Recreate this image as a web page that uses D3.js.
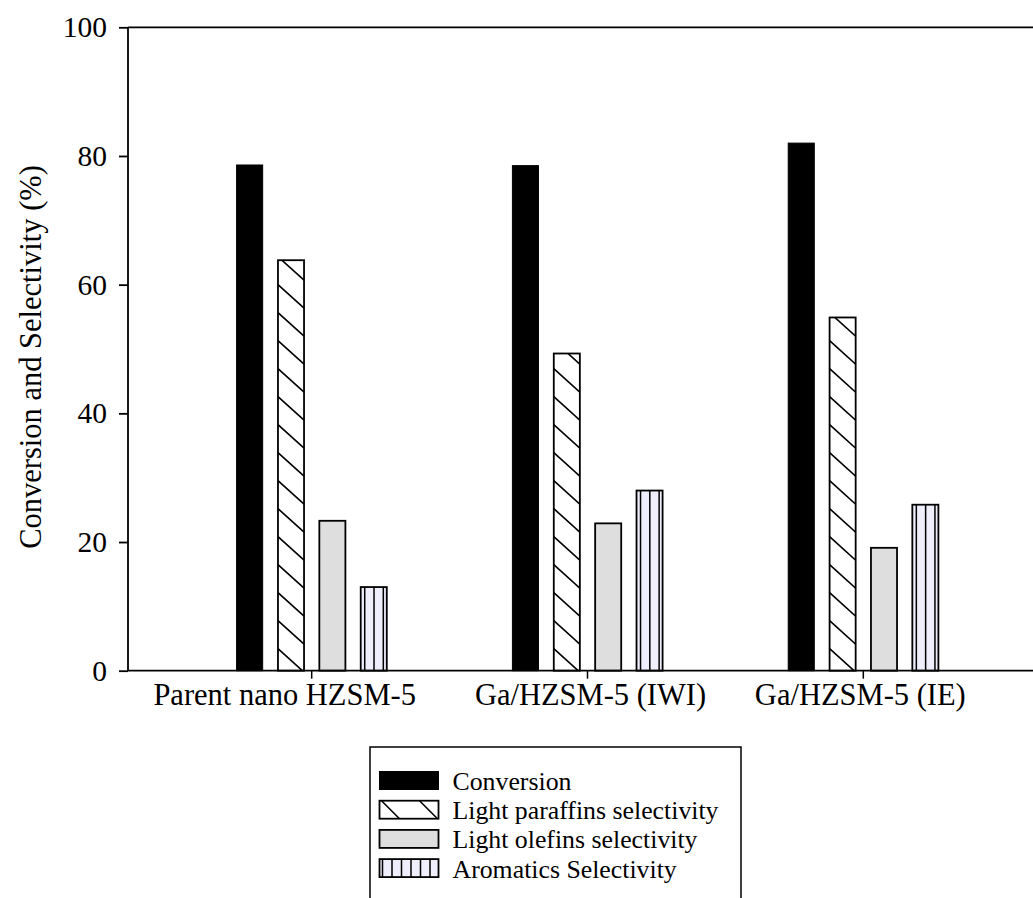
<!DOCTYPE html>
<html>
<head>
<meta charset="utf-8">
<script src="https://cdn.jsdelivr.net/npm/d3@7"></script>
<style>
  html, body { margin: 0; padding: 0; background: #fff; }
  svg { display: block; font-family: "Liberation Serif", "Times New Roman", serif; }
</style>
</head>
<body>
<svg id="chart" width="1033" height="898"></svg>
<script>
// Catalyst samples on the x axis
const categories = ["Parent nano HZSM-5", "Ga/HZSM-5 (IWI)", "Ga/HZSM-5 (IE)"];

// Series names (legend order)
const seriesNames = ["Conversion", "Light paraffins selectivity", "Light olefins selectivity", "Aromatics Selectivity"];

// Values (%) per catalyst, one array per series
const conversion = [78.6, 78.5, 82.0];
const paraffins  = [63.8, 49.3, 54.9];
const olefins    = [23.3, 22.9, 19.1];
const aromatics  = [13.0, 28.0, 25.8];

const yTicks = [0, 20, 40, 60, 80, 100];

const seriesValues = [conversion, paraffins, olefins, aromatics];

const svg = d3.select("#chart");

// plot frame
const plotLeft = 128, plotRight = 1047, plotTop = 27.3, plotBottom = 670.7;

const x0 = d3.scaleBand()
  .domain(categories)
  .range([plotLeft, plotRight])
  .paddingInner(0)
  .paddingOuter(0.166);

const groupSpan = x0.bandwidth() * 0.6;
const x1 = d3.scaleBand()
  .domain(seriesNames)
  .range([-groupSpan / 2, groupSpan / 2])
  .paddingInner(0.37)
  .paddingOuter(0.185);

const y = d3.scaleLinear().domain([0, 100]).range([plotBottom, plotTop]);

// flat list of bars
const bars = [];
categories.forEach((c, i) => {
  seriesNames.forEach((s, j) => {
    bars.push({ cat: c, series: s, idx: j, value: seriesValues[j][i] });
  });
});

const fills = ["#000000", "#ffffff", "#dedede", "#eeeefc"];

const defs = svg.append("defs");

const barG = svg.append("g");

bars.forEach((b, k) => {
  const cx = x0(b.cat) + x0.bandwidth() / 2;
  const bx = cx + x1(b.series);
  const bw = x1.bandwidth();
  const by = y(b.value);
  const bh = y(0) - by;

  const clipId = "clip-bar-" + k;
  defs.append("clipPath").attr("id", clipId)
    .append("rect").attr("x", bx).attr("y", by).attr("width", bw).attr("height", bh);

  barG.append("rect")
    .attr("x", bx).attr("y", by).attr("width", bw).attr("height", bh)
    .attr("fill", fills[b.idx]);

  const hatch = barG.append("g").attr("clip-path", `url(#${clipId})`);
  if (b.idx === 1) {
    // descending diagonal hatch, anchored at the bar base
    const step = 28;
    for (let yy = y(0) - 22; yy > by - bw - step; yy -= step) {
      hatch.append("line")
        .attr("x1", bx).attr("y1", yy)
        .attr("x2", bx + bw).attr("y2", yy + bw * 0.9)
        .attr("stroke", "#000").attr("stroke-width", 1.6);
    }
  } else if (b.idx === 3) {
    // vertical stripes
    for (let xx = bx + 4; xx < bx + bw - 2; xx += 9.3) {
      hatch.append("line")
        .attr("x1", xx).attr("y1", by)
        .attr("x2", xx).attr("y2", y(0))
        .attr("stroke", "#000").attr("stroke-width", 1.5);
    }
  }

  barG.append("rect")
    .attr("x", bx).attr("y", by).attr("width", bw).attr("height", bh)
    .attr("fill", "none")
    .attr("stroke", "#000").attr("stroke-width", b.idx === 0 ? 1 : 1.8);
});

// axes
const yAxis = d3.axisLeft(y).tickValues(yTicks).tickSize(9).tickPadding(12).tickFormat(d3.format("d"));
const yg = svg.append("g").attr("transform", `translate(${plotLeft},0)`).call(yAxis);
yg.select(".domain").remove();
yg.selectAll(".tick line").attr("stroke", "#000").attr("stroke-width", 1.8);
yg.selectAll(".tick text").attr("font-size", 29.5).attr("fill", "#000")
  .attr("font-family", "Liberation Serif, Times New Roman, serif");

const xAxis = d3.axisBottom(x0).tickSize(8).tickPadding(5);
const xg = svg.append("g").attr("transform", `translate(0,${plotBottom})`).call(xAxis);
xg.select(".domain").remove();
xg.selectAll(".tick line").attr("stroke", "#000").attr("stroke-width", 1.5);
// the first category label sits slightly left of its tick
const labelShift = [-27, 3, -3];
xg.selectAll(".tick text").attr("font-size", 30.5).attr("fill", "#000")
  .attr("dx", (d, i) => labelShift[i])
  .attr("font-family", "Liberation Serif, Times New Roman, serif");

// frame lines: left, top, bottom
svg.append("line").attr("x1", plotLeft).attr("y1", plotTop).attr("x2", plotLeft).attr("y2", plotBottom)
  .attr("stroke", "#000").attr("stroke-width", 1.8);
svg.append("line").attr("x1", plotLeft).attr("y1", plotTop).attr("x2", plotRight).attr("y2", plotTop)
  .attr("stroke", "#000").attr("stroke-width", 1.8);
svg.append("line").attr("x1", plotLeft).attr("y1", plotBottom).attr("x2", plotRight).attr("y2", plotBottom)
  .attr("stroke", "#000").attr("stroke-width", 1.8);

// y-axis title
svg.append("text")
  .attr("transform", `translate(31,${(plotTop + plotBottom) / 2 + 8}) rotate(-90)`)
  .attr("text-anchor", "middle")
  .attr("dominant-baseline", "central")
  .attr("font-size", 30.5)
  .text("Conversion and Selectivity (%)");

// legend
const lg = svg.append("g");
lg.append("path")
  .attr("d", "M370,920 L370,747 L741,747 L741,920")
  .attr("fill", "none").attr("stroke", "#000").attr("stroke-width", 1.5);

const swX = 379.5, swW = 59, swH = 18, rowY0 = 771.5, rowStep = 29.2;
seriesNames.forEach((s, j) => {
  const sy = rowY0 + j * rowStep;
  const clipId = "clip-leg-" + j;
  defs.append("clipPath").attr("id", clipId)
    .append("rect").attr("x", swX).attr("y", sy).attr("width", swW).attr("height", swH);
  lg.append("rect").attr("x", swX).attr("y", sy).attr("width", swW).attr("height", swH)
    .attr("fill", fills[j]);
  const h = lg.append("g").attr("clip-path", `url(#${clipId})`);
  if (j === 1) {
    [swX + 2, swX + 40].forEach(xx => {
      h.append("line").attr("x1", xx).attr("y1", sy).attr("x2", xx + swH).attr("y2", sy + swH)
        .attr("stroke", "#000").attr("stroke-width", 1.6);
    });
  } else if (j === 3) {
    for (let xx = swX + 3; xx < swX + swW - 2; xx += 9.5) {
      h.append("line").attr("x1", xx).attr("y1", sy).attr("x2", xx).attr("y2", sy + swH)
        .attr("stroke", "#000").attr("stroke-width", 1.5);
    }
  }
  lg.append("rect").attr("x", swX).attr("y", sy).attr("width", swW).attr("height", swH)
    .attr("fill", "none").attr("stroke", "#000").attr("stroke-width", j === 0 ? 1 : 1.8);
  lg.append("text")
    .attr("x", 452.5).attr("y", sy + swH + 0.5)
    .attr("font-size", 25.8)
    .text(s);
});
</script>
</body>
</html>
